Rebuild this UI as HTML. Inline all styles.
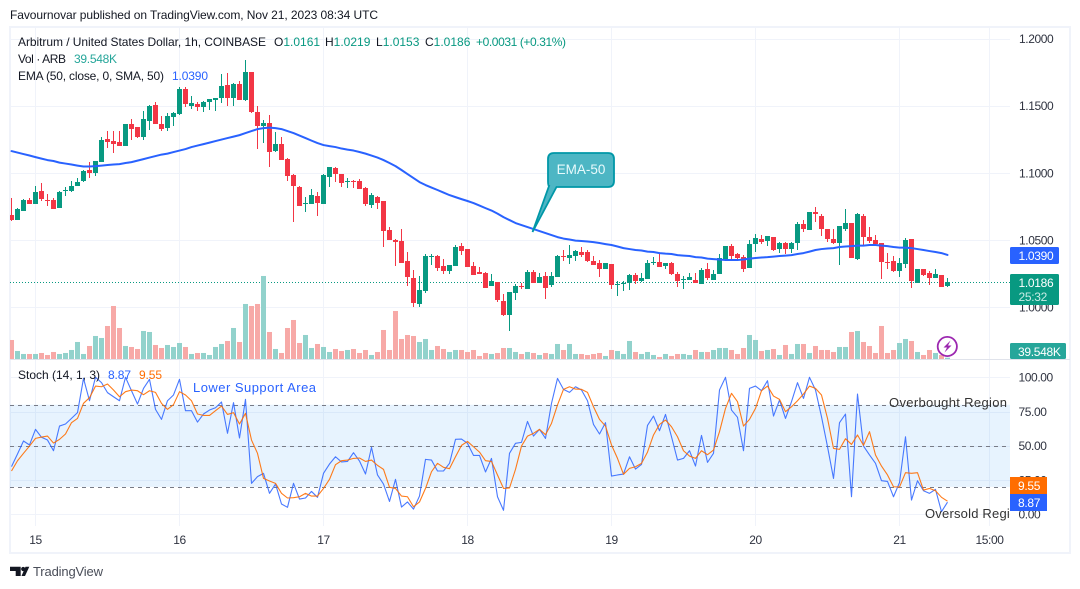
<!DOCTYPE html>
<html lang="en">
<head>
<meta charset="utf-8">
<title>Arbitrum / United States Dollar chart</title>
<style>
html,body{margin:0;padding:0;background:#fff;width:1080px;height:589px;overflow:hidden}
svg{display:block}
text{font-family:"Liberation Sans",sans-serif;font-size:12px;fill:#131722}
.ax{letter-spacing:-.4px;fill:#2f3340}
.tag{fill:#fff;letter-spacing:-.3px}
</style>
</head>
<body>
<svg id="chart" xmlns="http://www.w3.org/2000/svg" width="1080" height="589" viewBox="0 0 1080 589">
  <defs>
    <clipPath id="plot-clip"><rect x="10" y="27" width="1000" height="332"></rect></clipPath>
    <clipPath id="stoch-clip"><rect x="10" y="361" width="1000" height="165"></rect></clipPath>
    <clipPath id="note-clip"><rect x="880" y="395" width="129" height="130"></rect></clipPath>
  </defs>
  <text x="10" y="19" textLength="368">Favournovar published on TradingView.com, Nov 21, 2023 08:34 UTC</text>

  <rect x="10" y="27" width="1060" height="526" fill="#fff" stroke="#f0f3fa" stroke-width="2"></rect>

  <g id="grid"></g>
  <rect id="band" x="10" y="405" width="1000" height="82" fill="#2196f3" fill-opacity="0.11"></rect>
  <g id="stoch-levels"></g>
  <line id="last-line" x1="10" x2="1010" stroke="#089981" stroke-width="1" stroke-dasharray="1 2"></line>
  <line x1="10" x2="1070" y1="359.5" y2="359.5" stroke="#e0e3eb" stroke-width="1"></line>

  <g id="volume" clip-path="url(#plot-clip)"></g>
  <g id="candles" clip-path="url(#plot-clip)"></g>
  <path id="ema" clip-path="url(#plot-clip)" fill="none" stroke="#2962ff" stroke-width="2" stroke-linejoin="round" stroke-linecap="round"></path>
  <path id="stoch-k" clip-path="url(#stoch-clip)" fill="none" stroke="#2962ff" stroke-opacity="0.85" stroke-width="1.1" stroke-linejoin="round"></path>
  <path id="stoch-d" clip-path="url(#stoch-clip)" fill="none" stroke="#ff6d00" stroke-opacity="0.9" stroke-width="1.1" stroke-linejoin="round"></path>

  <g>
    <path d="M554 153 H608 Q614 153 614 159 V181 Q614 187 608 187 H556.5 L532.5 232 L549 186 Q548 186 548 181 V159 Q548 153 554 153 Z" fill="#4db6c4" stroke="#0097a7" stroke-width="1.8"></path>
    <text x="581" y="174" text-anchor="middle" style="fill:#e8fafc;font-size:13.5px">EMA-50</text>
  </g>

  <text x="18" y="46" textLength="248">Arbitrum / United States Dollar, 1h, COINBASE</text>
  <g>
    <text x="274" y="46">O<tspan style="fill:#089981">1.0161</tspan></text>
    <text x="325" y="46">H<tspan style="fill:#089981">1.0219</tspan></text>
    <text x="376" y="46">L<tspan style="fill:#089981">1.0153</tspan></text>
    <text x="425" y="46">C<tspan style="fill:#089981">1.0186</tspan></text>
    <text x="476" y="46" textLength="90" style="fill:#089981">+0.0031 (+0.31%)</text>
  </g>
  <text x="18" y="63" textLength="48">Vol · ARB</text>
  <text x="74" y="63" textLength="43" style="fill:#26a69a">39.548K</text>
  <text x="18" y="80" textLength="146">EMA (50, close, 0, SMA, 50)</text>
  <text x="172" y="80" textLength="36" style="fill:#2962ff">1.0390</text>
  <text x="18" y="379" textLength="82">Stoch (14, 1, 3)</text>
  <text x="108" y="379" textLength="23" style="fill:#2962ff">8.87</text>
  <text x="139" y="379" textLength="23" style="fill:#ff6d00">9.55</text>

  <text x="193" y="392" textLength="123" style="fill:#2962ff;font-size:13px">Lower Support Area</text>
  <text x="889" y="407" textLength="118" style="font-size:13px;fill:#333">Overbought Region</text>
  <g clip-path="url(#note-clip)">
    <text x="925" y="518" style="font-size:13px;fill:#333;letter-spacing:.2px">Oversold Region</text>
  </g>

  <g id="axis-labels"></g>

  <g>
    <rect x="1010" y="247" width="49" height="17" rx="1.5" fill="#2962ff"></rect>
    <text class="tag" x="1018.5" y="260">1.0390</text>
  </g>
  <g>
    <rect x="1010" y="274" width="49" height="31" rx="1.5" fill="#089981"></rect>
    <text class="tag" x="1018.5" y="287">1.0186</text>
    <text class="tag" x="1018.5" y="301" style="fill:#c8ece5">25:32</text>
  </g>
  <g>
    <rect x="1010" y="343" width="56" height="16" rx="1.5" fill="#26a69a"></rect>
    <text class="tag" x="1018" y="356">39.548K</text>
  </g>
  <g>
    <rect x="1010" y="477" width="37" height="17" fill="#ff6d00"></rect>
    <text class="tag" x="1018" y="490">9.55</text>
  </g>
  <g>
    <rect x="1010" y="494" width="37" height="17" fill="#2962ff"></rect>
    <text class="tag" x="1018" y="507">8.87</text>
  </g>

  <g>
    <circle cx="947.3" cy="346.5" r="9.6" fill="#fff" stroke="#9c27b0" stroke-width="1.8"></circle>
    <path d="M950.5 340.5 L943.5 347.5 H947 L944.5 352.5 L951.5 345.5 H948 Z" fill="#9c27b0"></path>
  </g>

  <g>
    <path d="M10 566.7 H20.7 V576 H15.7 V571 H10 Z M25.5 566.7 H29.3 L25 576 H21.5 Z" fill="#131722"></path>
    <circle cx="23.2" cy="569" r="2.1" fill="#131722"></circle>
    <text x="33" y="576" textLength="70" style="fill:#4a4e59;font-size:13px">TradingView</text>
  </g>
</svg>

<script>
const opens=[1.0687,1.0650,1.0717,1.0799,1.0769,1.0866,1.0799,1.0799,1.0739,1.0866,
1.0866,1.0903,1.0941,1.1023,1.1000,1.1082,1.1253,1.1239,1.1231,1.1201,
1.1365,1.1343,1.1268,1.1388,1.1507,1.1365,1.1335,1.1417,1.1440,1.1626,
1.1499,1.1514,1.1492,1.1529,1.1544,1.1559,1.1656,1.1559,1.1663,1.1544,
1.1753,1.1455,1.1350,1.1373,1.1164,1.1216,1.1104,1.0985,1.0896,1.0769,
1.0769,1.0829,1.0769,1.0970,1.1037,1.0993,1.0933,1.0941,1.0941,1.0888,
1.0762,1.0821,1.0792,1.0576,1.0501,1.0494,1.0345,1.0218,1.0024,1.0121,
1.0374,1.0382,1.0307,1.0270,1.0307,1.0456,1.0434,1.0307,1.0263,1.0255,
1.0158,1.0188,1.0047,0.9942,1.0106,1.0160,1.0136,1.0263,1.0181,1.0233,
1.0166,1.0225,1.0385,1.0367,1.0382,1.0412,1.0412,1.0345,1.0330,1.0285,
1.0322,1.0170,1.0173,1.0181,1.0240,1.0196,1.0210,1.0335,1.0337,1.0307,
1.0330,1.0248,1.0203,1.0203,1.0203,1.0173,1.0285,1.0203,1.0248,1.0359,
1.0456,1.0397,1.0374,1.0292,1.0471,1.0509,1.0494,1.0523,1.0434,1.0479,
1.0434,1.0479,1.0620,1.0576,1.0710,1.0680,1.0583,1.0509,1.0479,1.0583,
1.0628,1.0359,1.0680,1.0523,1.0501,1.0479,1.0337,1.0345,1.0270,1.0322,
1.0509,1.0181,1.0285,1.0255,1.0218,1.0240,1.0161];
const highs=[1.0814,1.0739,1.0806,1.0814,1.0903,1.0926,1.0844,1.0814,1.0866,1.0896,
1.0941,1.0963,1.1023,1.1082,1.1090,1.1268,1.1313,1.1313,1.1313,1.1365,
1.1402,1.1343,1.1462,1.1507,1.1529,1.1425,1.1447,1.1455,1.1641,1.1641,
1.1574,1.1529,1.1537,1.1551,1.1559,1.1738,1.1745,1.1671,1.1686,1.1842,
1.1753,1.1499,1.1395,1.1432,1.1306,1.1268,1.1112,1.0993,1.0903,1.0821,
1.0881,1.0859,1.0993,1.1045,1.1045,1.0993,1.0963,1.0948,1.0955,1.0896,
1.0851,1.0829,1.0792,1.0598,1.0509,1.0583,1.0412,1.0278,1.0233,1.0397,
1.0397,1.0389,1.0359,1.0315,1.0464,1.0479,1.0434,1.0337,1.0300,1.0263,
1.0248,1.0188,1.0099,1.0114,1.0173,1.0181,1.0278,1.0278,1.0255,1.0263,
1.0263,1.0389,1.0427,1.0464,1.0427,1.0449,1.0427,1.0382,1.0352,1.0330,
1.0322,1.0196,1.0196,1.0248,1.0255,1.0255,1.0352,1.0374,1.0397,1.0330,
1.0337,1.0263,1.0233,1.0255,1.0255,1.0292,1.0330,1.0278,1.0397,1.0456,
1.0471,1.0404,1.0389,1.0501,1.0546,1.0538,1.0531,1.0523,1.0486,1.0486,
1.0486,1.0635,1.0650,1.0710,1.0747,1.0695,1.0583,1.0583,1.0605,1.0732,
1.0628,1.0702,1.0695,1.0598,1.0538,1.0479,1.0404,1.0382,1.0367,1.0516,
1.0509,1.0285,1.0285,1.0270,1.0285,1.0240,1.0219];
const lows=[1.0643,1.0650,1.0717,1.0769,1.0769,1.0792,1.0754,1.0732,1.0739,1.0829,
1.0859,1.0903,1.0933,1.0963,1.0978,1.1082,1.1186,1.1149,1.1201,1.1201,
1.1246,1.1261,1.1246,1.1320,1.1365,1.1313,1.1313,1.1350,1.1432,1.1492,
1.1477,1.1462,1.1455,1.1470,1.1462,1.1522,1.1499,1.1499,1.1544,1.1537,
1.1447,1.1179,1.1224,1.1045,1.1157,1.1097,1.0941,1.0635,1.0754,1.0710,
1.0769,1.0680,1.0769,1.0896,1.0933,1.0896,1.0888,1.0888,1.0881,1.0754,
1.0739,1.0732,1.0449,1.0501,1.0307,1.0330,1.0158,1.0002,1.0002,1.0106,
1.0315,1.0270,1.0248,1.0248,1.0307,1.0389,1.0300,1.0240,1.0248,1.0143,
1.0158,1.0039,0.9935,0.9823,1.0054,1.0136,1.0136,1.0181,1.0181,1.0062,
1.0151,1.0225,1.0345,1.0322,1.0345,1.0374,1.0337,1.0315,1.0225,1.0285,
1.0136,1.0084,1.0121,1.0129,1.0173,1.0188,1.0210,1.0315,1.0300,1.0285,
1.0240,1.0151,1.0136,1.0203,1.0181,1.0173,1.0203,1.0203,1.0248,1.0345,
1.0352,1.0352,1.0263,1.0292,1.0412,1.0471,1.0456,1.0419,1.0404,1.0397,
1.0404,1.0427,1.0561,1.0576,1.0635,1.0531,1.0486,1.0471,1.0315,1.0568,
1.0367,1.0352,1.0464,1.0479,1.0464,1.0210,1.0285,1.0263,1.0225,1.0292,
1.0143,1.0181,1.0233,1.0166,1.0218,1.0151,1.0153];
const closes=[1.0650,1.0732,1.0799,1.0769,1.0859,1.0806,1.0792,1.0732,1.0859,1.0874,
1.0903,1.0933,1.1015,1.1000,1.1090,1.1246,1.1231,1.1216,1.1201,1.1365,
1.1328,1.1268,1.1402,1.1499,1.1365,1.1328,1.1425,1.1447,1.1626,1.1514,
1.1522,1.1492,1.1529,1.1551,1.1559,1.1648,1.1559,1.1663,1.1544,1.1753,
1.1455,1.1350,1.1373,1.1157,1.1216,1.1097,1.0978,1.0903,1.0754,1.0777,
1.0836,1.0777,1.0985,1.1045,1.0993,1.0926,1.0941,1.0936,1.0881,1.0769,
1.0836,1.0777,1.0568,1.0501,1.0486,1.0330,1.0225,1.0032,1.0129,1.0382,
1.0382,1.0292,1.0270,1.0315,1.0449,1.0419,1.0300,1.0240,1.0248,1.0143,
1.0196,1.0054,0.9942,1.0114,1.0158,1.0156,1.0263,1.0181,1.0225,1.0143,
1.0233,1.0382,1.0380,1.0389,1.0419,1.0389,1.0345,1.0315,1.0285,1.0330,
1.0166,1.0175,1.0181,1.0240,1.0196,1.0218,1.0330,1.0340,1.0300,1.0330,
1.0248,1.0196,1.0210,1.0225,1.0181,1.0278,1.0218,1.0248,1.0367,1.0456,
1.0382,1.0367,1.0285,1.0471,1.0516,1.0486,1.0531,1.0427,1.0479,1.0434,
1.0479,1.0620,1.0583,1.0710,1.0695,1.0583,1.0509,1.0479,1.0605,1.0628,
1.0367,1.0695,1.0523,1.0494,1.0471,1.0337,1.0330,1.0270,1.0330,1.0501,
1.0196,1.0285,1.0240,1.0218,1.0248,1.0151,1.0186];
const volumesK=[483,208,133,133,133,158,108,183,133,158,
233,433,133,333,583,533,833,1333,783,333,
308,258,708,683,358,283,358,308,408,308,
133,158,158,108,308,383,458,783,433,1383,
1333,1383,2083,683,258,158,783,983,408,608,
283,383,308,183,258,208,233,258,158,233,
108,183,733,233,1208,508,608,583,433,508,
233,333,258,183,233,233,183,233,83,158,
133,158,283,283,183,133,183,158,108,158,
133,383,233,383,133,133,108,133,158,83,
233,208,133,458,183,133,183,108,58,133,
83,133,133,108,233,183,183,233,283,283,
233,133,283,608,483,208,233,258,108,358,
133,383,383,158,333,233,233,183,308,308,
683,708,433,333,158,833,158,233,408,508,
458,183,108,233,158,108,39.548];
const ema50=[1.1164,1.1153,1.1142,1.1131,1.1119,1.1108,1.1097,1.1090,1.1078,1.1071,
1.1064,1.1056,1.1049,1.1049,1.1052,1.1056,1.1060,1.1064,1.1067,1.1075,
1.1082,1.1093,1.1104,1.1116,1.1127,1.1138,1.1145,1.1157,1.1168,1.1179,
1.1194,1.1205,1.1216,1.1227,1.1239,1.1250,1.1261,1.1272,1.1283,1.1298,
1.1313,1.1328,1.1335,1.1339,1.1335,1.1328,1.1313,1.1298,1.1280,1.1261,
1.1242,1.1224,1.1209,1.1201,1.1194,1.1183,1.1175,1.1168,1.1157,1.1145,
1.1131,1.1116,1.1097,1.1075,1.1052,1.1023,1.0993,1.0963,1.0933,1.0911,
1.0892,1.0874,1.0855,1.0836,1.0821,1.0806,1.0792,1.0777,1.0758,1.0739,
1.0721,1.0698,1.0672,1.0650,1.0628,1.0613,1.0598,1.0583,1.0568,1.0553,
1.0538,1.0523,1.0512,1.0505,1.0497,1.0494,1.0490,1.0486,1.0479,1.0471,
1.0464,1.0453,1.0441,1.0434,1.0427,1.0423,1.0415,1.0412,1.0404,1.0400,
1.0397,1.0389,1.0385,1.0382,1.0374,1.0371,1.0363,1.0359,1.0356,1.0352,
1.0352,1.0352,1.0356,1.0363,1.0367,1.0371,1.0374,1.0378,1.0382,1.0385,
1.0389,1.0397,1.0404,1.0415,1.0427,1.0434,1.0438,1.0441,1.0449,1.0453,
1.0456,1.0460,1.0460,1.0464,1.0464,1.0460,1.0456,1.0449,1.0445,1.0445,
1.0441,1.0434,1.0427,1.0419,1.0412,1.0404,1.0390];
const stochK=[34.8,44.0,53.5,50.6,62.0,56.2,54.2,46.4,64.4,65.9,
70.0,74.2,99.2,82.9,100,96.1,88.8,85.8,82.9,100,
90.2,80.5,91.9,98.5,76.6,69.3,82.9,87.1,98.5,75.6,
75.6,67.3,73.2,76.1,77.8,82.0,59.1,81.5,55.7,83.9,
22.6,27.5,29.9,15.3,22.1,7.5,5.1,22.6,11.1,11.9,
16.7,12.4,29.9,36.7,42.0,38.2,38.6,45.0,38.9,29.4,
48.9,28.7,22.1,9.4,25.5,5.3,9.0,3.8,13.3,40.1,
39.6,31.6,31.6,37.2,54.7,54.9,51.8,43.0,43.0,30.9,
40.8,12.8,2.9,44.5,51.8,52.5,67.8,57.1,62.0,55.4,
81.0,99.2,91.2,89.0,93.1,90.7,82.9,65.6,58.6,66.9,
27.9,28.7,29.4,42.0,33.0,36.4,64.9,71.7,61.0,72.9,
56.6,39.6,40.8,46.4,35.2,57.6,37.9,44.5,90.7,100,
76.1,70.8,46.4,91.9,93.6,90.2,97.5,71.7,83.4,70.0,
82.2,96.1,84.6,100,90.7,71.2,49.4,26.2,66.9,73.2,
12.8,87.8,49.8,43.3,37.2,24.5,24.0,12.8,23.1,56.6,
10.4,24.5,17.2,15.3,18.2,1.9,8.87];
const stochD=[31.6,39.1,44.5,49.8,55.4,56.4,57.1,52.0,54.7,58.6,
66.9,70.0,81.0,85.1,93.6,93.1,95.1,90.7,85.8,89.5,
90.7,90.2,87.3,90.2,89.0,81.0,76.6,80.0,89.5,87.1,
82.9,73.2,72.2,72.2,75.6,79.0,72.9,74.2,65.9,73.7,
54.2,44.5,26.2,24.3,22.6,15.3,11.9,12.1,12.8,15.3,
13.3,13.3,18.9,25.5,36.2,39.1,39.6,40.8,41.1,38.6,
39.6,35.7,32.8,19.7,18.9,13.3,12.8,5.5,9.0,18.9,
31.1,37.2,34.3,33.3,42.0,50.3,53.2,49.3,45.4,39.1,
38.6,28.7,18.9,19.2,32.8,49.8,57.1,59.1,62.0,58.1,
66.4,79.8,91.2,93.1,91.4,91.2,89.0,78.5,69.3,64.4,
50.6,40.8,29.2,33.5,34.7,37.2,45.4,57.9,65.6,68.8,
63.9,56.6,46.4,42.5,40.8,46.4,43.5,46.9,60.3,77.3,
88.3,82.2,64.4,69.3,77.3,90.2,93.6,86.3,83.9,74.9,
78.5,82.9,87.8,93.6,91.9,87.1,70.0,48.1,47.4,55.2,
51.0,57.9,50.3,60.3,43.3,35.2,28.7,20.1,19.9,30.4,
29.9,30.4,17.7,18.9,17.2,12.4,9.55];
const priceTicks=["1.2000","1.1500","1.1000","1.0500","1.0000"];
const stochTicks=["100.00","75.00","50.00","25.00","0.00"];
const stochLevels=[80,50,20];
const timeTicks=[["15",4],["16",28],["17",52],["18",76],["19",100],["20",124],["21",148],["15:00",163]];
const lastPrice=1.0186;

const NS='http://www.w3.org/2000/svg';
function barX(i){return 11.5+6*i;}
function priceY(p){return 307.3-(p-1)*1342;}
function volumeY(v){return 359.3-v/25;}
function stochY(s){return 514.3-s*1.37;}
function make(tag,parent){const n=document.createElementNS(NS,tag);parent.appendChild(n);return n;}
function setRect(n,x,y,w,h,fill){n.setAttribute('x',x);n.setAttribute('y',y);n.setAttribute('width',w);n.setAttribute('height',h);n.setAttribute('fill',fill);}
function linePath(values,yFn){return values.map(function(v,i){return (i?'L':'M')+barX(i).toFixed(1)+' '+yFn(v).toFixed(2);}).join(' ');}

const grid=document.getElementById('grid');
priceTicks.forEach(function(t){
  const el=make('line',grid);
  
  
  const y=Math.round(priceY(parseFloat(t)))+0.5;
  el.setAttribute('x1',10);el.setAttribute('x2',1010);el.setAttribute('y1',y);el.setAttribute('y2',y);
  el.setAttribute('stroke','#f0f3fa');
});
stochTicks.forEach(function(t){
  const el=make('line',grid);
  
  
  const y=Math.round(stochY(parseFloat(t)))+0.5;
  el.setAttribute('x1',10);el.setAttribute('x2',1010);el.setAttribute('y1',y);el.setAttribute('y2',y);
  el.setAttribute('stroke','#f0f3fa');
});
timeTicks.forEach(function(t){
  const el=make('line',grid);
  
  
  const x=barX(t[1]);
  el.setAttribute('x1',x);el.setAttribute('x2',x);el.setAttribute('y1',27);el.setAttribute('y2',526);
  el.setAttribute('stroke','#f0f3fa');
});

const levels=document.getElementById('stoch-levels');
stochLevels.forEach(function(s){
  const el=make('line',levels);
  
  
  const y=Math.round(stochY(s))+0.5;
  el.setAttribute('x1',10);el.setAttribute('x2',1010);el.setAttribute('y1',y);el.setAttribute('y2',y);
  el.setAttribute('stroke','#787b86');
  el.setAttribute('stroke-dasharray','4 4');
});
const band=document.getElementById('band');
band.setAttribute('y',stochY(stochLevels[0]));
band.setAttribute('height',stochY(stochLevels[2])-stochY(stochLevels[0]));

const lastLine=document.getElementById('last-line');
const lastY=Math.round(priceY(lastPrice))+0.5;
lastLine.setAttribute('y1',lastY);
lastLine.setAttribute('y2',lastY);

const volG=document.getElementById('volume');
volumesK.forEach(function(v,i){
  const el=make('rect',volG);
  
  
  const top=volumeY(v);
  setRect(el,barX(i)-2.5,top,5,359.3-top,closes[i]>=opens[i]?'#92d2cc':'#f7a9a7');
});

const candleG=document.getElementById('candles');
opens.forEach(function(o,i){
  const c=closes[i];
  const col=c>=o?'#089981':'#f23645';
  const x=barX(i);
  const wick=make('rect',candleG);
  
  
  const hy=Math.round(priceY(highs[i]));
  const ly=Math.round(priceY(lows[i]));
  setRect(wick,x-0.5,hy,1,Math.max(1,ly-hy),col);
  const body=make('rect',candleG);
  
  
  const ty=Math.round(priceY(Math.max(o,c)));
  const by=Math.round(priceY(Math.min(o,c)));
  setRect(body,x-2.5,ty,5,Math.max(1,by-ty),col);
});

document.getElementById('ema').setAttribute('d',linePath(ema50,priceY));
document.getElementById('stoch-k').setAttribute('d',linePath(stochK,stochY));
document.getElementById('stoch-d').setAttribute('d',linePath(stochD,stochY));

const axisG=document.getElementById('axis-labels');
priceTicks.forEach(function(t){
  const el=make('text',axisG);
  
  
  el.setAttribute('class','ax');
  el.setAttribute('x',1019);
  el.setAttribute('y',priceY(parseFloat(t))+4.2);
  el.textContent=t;
});
stochTicks.forEach(function(t){
  const el=make('text',axisG);
  
  
  el.setAttribute('class','ax');
  el.setAttribute('x',1018.5);
  el.setAttribute('y',stochY(parseFloat(t))+4.2);
  el.textContent=t;
});
timeTicks.forEach(function(t){
  const el=make('text',axisG);
  
  
  el.setAttribute('class','ax');
  el.setAttribute('x',barX(t[1]));
  el.setAttribute('y',544);
  el.setAttribute('text-anchor','middle');
  el.textContent=t[0];
});
</script>
</body>
</html>
